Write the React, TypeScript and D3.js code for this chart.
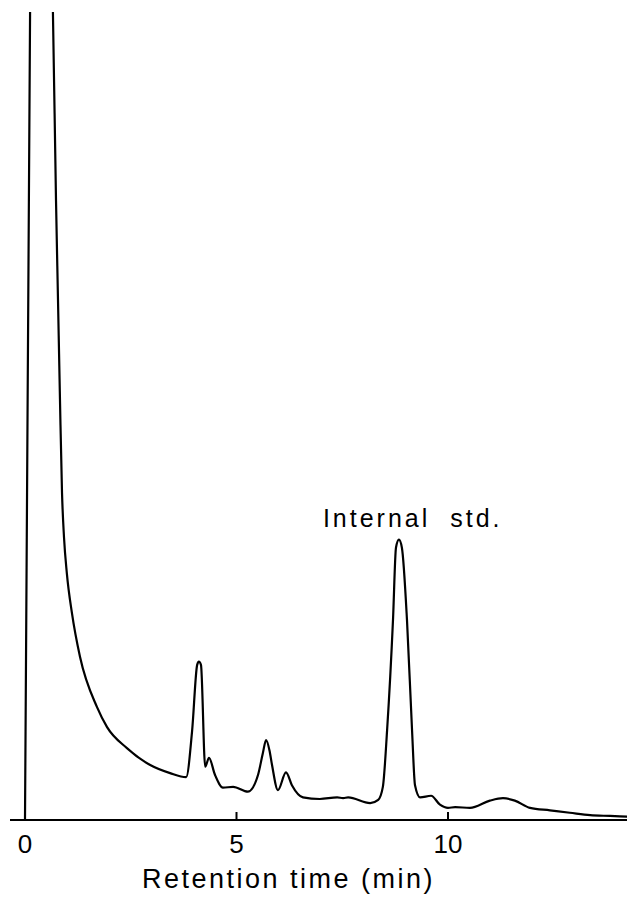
import React from "react";
import * as d3 from "d3";

// Retention time (min) and detector response (arbitrary units, 100 = top of trace window)
const times = [
  0, 0.12, 0.35, 0.66, 0.733, 0.78, 0.827, 0.875, 0.922, 0.99, 1.11, 1.3, 1.7, 1.94, 2.41, 2.96, 3.43, 3.81,
  3.95, 4.07, 4.11, 4.16, 4.26, 4.35, 4.49, 4.68, 4.92, 5.27, 5.51, 5.62, 5.7, 5.78, 5.84, 5.98, 6.17,
  6.31, 6.57, 6.97, 7.38, 7.52, 7.64, 8.16, 8.35, 8.46, 8.56, 8.7, 8.77, 8.84, 8.91, 9.03, 9.15, 9.22,
  9.34, 9.6, 9.81, 10.0, 10.17, 10.52, 10.99, 11.3, 11.58, 11.94, 12.41, 12.88, 13.36, 13.83, 14.3,
];
const signal = [
  0, 100, 140, 100, 76.7, 64.4, 52, 40.5, 35.0, 30.5, 25.6, 20.2, 14.0, 11.5, 8.9, 6.8, 5.8, 5.3,
  11.0, 19.2, 19.6, 19.2, 6.6, 7.7, 5.6, 4.0, 4.1, 3.5, 5.6, 8.2, 9.9, 8.6, 6.8, 3.7, 5.9,
  4.3, 2.8, 2.6, 2.8, 2.7, 2.8, 2.1, 2.5, 4.1, 11.1, 24.8, 33.7, 34.7, 33.7, 24.8, 11.1, 4.3,
  2.8, 3.0, 1.9, 1.5, 1.6, 1.5, 2.4, 2.7, 2.4, 1.5, 1.2, 0.9, 0.6, 0.5, 0.4,
];
const tickValues = [0, 5, 10];
const tickLabels = ["0", "5", "10"];
const xTitle = "Retention time (min)";
const peakLabel = "Internal  std.";
const peakLabelTime = 8.84;

export default function App() {
  const W = 627;
  const H = 897;
  const x = d3.scaleLinear().domain([0, 10]).range([25, 448]);
  const y = d3.scaleLinear().domain([0, 100]).range([820, 12]);
  const pts = times.map((t, i) => [t, signal[i]] as [number, number]);
  const line = d3
    .line<[number, number]>()
    .x((d) => x(d[0]))
    .y((d) => y(d[1]))
    .curve(d3.curveMonotoneX);
  const font = "'Liberation Sans', Arial, sans-serif";
  return (
    <svg
      width={W}
      height={H}
      style={{ position: "absolute", left: 0, top: 0, background: "#fff" }}
    >
      <defs>
        <clipPath id="plotclip">
          <rect x={0} y={y(100)} width={W} height={y(0) - y(100) + 4} />
        </clipPath>
      </defs>
      {/* x axis */}
      <line x1={10} x2={W} y1={y(0)} y2={y(0)} stroke="#000" strokeWidth={2} />
      {tickValues.map((v, i) => (
        <g key={v}>
          <line x1={x(v)} x2={x(v)} y1={y(0)} y2={y(0) - 8} stroke="#000" strokeWidth={2} />
          <text
            x={x(v)}
            y={853}
            textAnchor="middle"
            fontFamily={font}
            fontSize={26}
            fill="#000"
          >
            {tickLabels[i]}
          </text>
        </g>
      ))}
      <text
        x={142}
        y={888}
        fontFamily={font}
        fontSize={27}
        letterSpacing={2.5}
        fill="#000"
      >
        {xTitle}
      </text>
      <path
        d={line(pts) || ""}
        fill="none"
        stroke="#000"
        strokeWidth={2.2}
        strokeLinejoin="round"
        clipPath="url(#plotclip)"
      />
      <text
        x={x(peakLabelTime) - 76}
        y={527}
        fontFamily={font}
        fontSize={25}
        letterSpacing={3}
        fill="#000"
        style={{ whiteSpace: "pre" }}
      >
        {peakLabel}
      </text>
    </svg>
  );
}
